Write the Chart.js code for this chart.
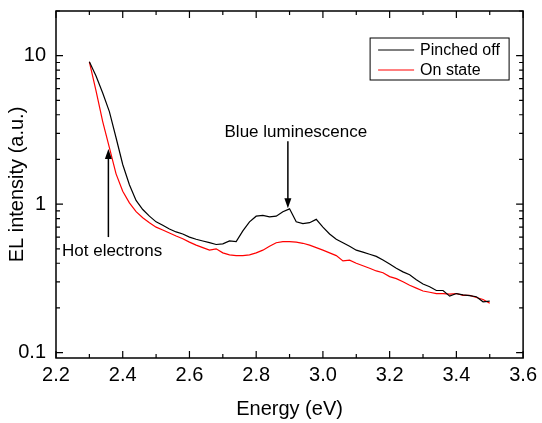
<!DOCTYPE html>
<html>
<head>
<meta charset="utf-8">
<script src="https://cdn.jsdelivr.net/npm/chart.js@4.4.1/dist/chart.umd.min.js"></script>
<style>
  html, body { margin: 0; padding: 0; background: #fff; }
  #wrap { width: 542px; height: 423px; }
</style>
</head>
<body>
<div id="wrap"><canvas id="elChart"></canvas></div>
<script>
// EL spectra
const energy = [
  2.30, 2.32, 2.34, 2.36, 2.38, 2.40, 2.42, 2.44, 2.46, 2.48,
  2.50, 2.52, 2.54, 2.56, 2.58, 2.60, 2.62, 2.64, 2.66, 2.68,
  2.70, 2.72, 2.74, 2.76, 2.78, 2.80, 2.82, 2.84, 2.86, 2.88,
  2.90, 2.92, 2.94, 2.96, 2.98, 3.00, 3.02, 3.04, 3.06, 3.08,
  3.10, 3.12, 3.14, 3.16, 3.18, 3.20, 3.22, 3.24, 3.26, 3.28,
  3.30, 3.32, 3.34, 3.36, 3.38, 3.40, 3.42, 3.44, 3.46, 3.48, 3.50
]
const pinchedOff = [
  9.1, 7.3, 5.6, 4.2, 2.8, 1.85, 1.35, 1.06, 0.92, 0.83,
  0.76, 0.72, 0.68, 0.65, 0.63, 0.60, 0.58, 0.565, 0.55, 0.535,
  0.54, 0.565, 0.56, 0.66, 0.76, 0.83, 0.84, 0.82, 0.83, 0.89,
  0.93, 0.76, 0.74, 0.75, 0.79, 0.70, 0.63, 0.58, 0.55, 0.52,
  0.49, 0.475, 0.46, 0.445, 0.42, 0.395, 0.37, 0.35, 0.335, 0.31,
  0.29, 0.278, 0.262, 0.262, 0.24, 0.25, 0.245, 0.242, 0.238, 0.22, 0.222
]
const onState = [
  9.1, 5.8, 3.6, 2.4, 1.6, 1.22, 1.02, 0.89, 0.81, 0.75,
  0.70, 0.67, 0.64, 0.61, 0.585, 0.555, 0.53, 0.51, 0.49, 0.50,
  0.47, 0.455, 0.45, 0.45, 0.455, 0.47, 0.49, 0.52, 0.55, 0.56,
  0.56, 0.555, 0.545, 0.53, 0.51, 0.49, 0.47, 0.45, 0.415, 0.42,
  0.40, 0.385, 0.37, 0.355, 0.345, 0.325, 0.315, 0.30, 0.284, 0.272,
  0.26, 0.255, 0.25, 0.25, 0.248, 0.25, 0.243, 0.243, 0.235, 0.228, 0.215
]
const seriesNames = ['Pinched off', 'On state']
const seriesColors = ['#000000', '#ff0000']

const xTickValues = [2.2, 2.3, 2.4, 2.5, 2.6, 2.7, 2.8, 2.9, 3.0, 3.1, 3.2, 3.3, 3.4, 3.5, 3.6]
const xTickLabels = ['2.2', '2.4', '2.6', '2.8', '3.0', '3.2', '3.4', '3.6']
const yTickValues = [0.1, 0.2, 0.3, 0.4, 0.5, 0.6, 0.7, 0.8, 0.9, 1, 2, 3, 4, 5, 6, 7, 8, 9, 10, 20]
const yTickLabels = ['0.1', '1', '10']

const FONT = "'Liberation Sans', Arial, sans-serif"

// arrows: tip given in data units, tail and text as pixel offsets
const notes = [
  { text: 'Blue luminescence', x: 2.895, y: 0.94, tail: -67, textDx: 8, textDy: -76 },
  { text: 'Hot electrons', x: 2.357, y: 2.35, tail: 88, textDx: 6, textDy: 102 }
]

const toPoints = (xs, ys) => xs.map((x, i) => ({ x: x, y: ys[i] }))

// frame, inward ticks, legend box and arrows
const decorations = {
  id: 'decorations',
  afterDraw(chart) {
    const { ctx, chartArea: a, scales: { x, y } } = chart
    ctx.save()
    ctx.strokeStyle = '#000'
    ctx.lineWidth = 1.5
    ctx.strokeRect(a.left, a.top, a.right - a.left, a.bottom - a.top)

    ctx.lineWidth = 1.2
    ctx.beginPath()
    x.ticks.forEach(t => {
      const px = x.getPixelForValue(t.value)
      const len = t.label ? 7 : 4
      ctx.moveTo(px, a.bottom); ctx.lineTo(px, a.bottom - len)
      ctx.moveTo(px, a.top); ctx.lineTo(px, a.top + len)
    })
    y.ticks.forEach(t => {
      const py = y.getPixelForValue(t.value)
      if (py < a.top - 0.5 || py > a.bottom + 0.5) return
      const len = t.label ? 7 : 4
      ctx.moveTo(a.left, py); ctx.lineTo(a.left + len, py)
      ctx.moveTo(a.right, py); ctx.lineTo(a.right - len, py)
    })
    ctx.stroke()

    // legend
    const bx = a.right - 153, by = a.top + 27, bw = 139, bh = 42
    ctx.lineWidth = 1
    ctx.strokeRect(bx, by, bw, bh)
    ctx.font = '16px ' + FONT
    ctx.textBaseline = 'middle'
    ctx.textAlign = 'left'
    chart.data.datasets.forEach((ds, i) => {
      const ly = by + 12 + i * 20
      ctx.strokeStyle = ds.borderColor
      ctx.beginPath()
      ctx.moveTo(bx + 8, ly); ctx.lineTo(bx + 44, ly)
      ctx.stroke()
      ctx.fillStyle = '#000'
      ctx.fillText(ds.label, bx + 50, ly + 1)
    })

    // annotations
    ctx.font = '17px ' + FONT
    ctx.fillStyle = '#000'
    ctx.strokeStyle = '#000'
    notes.forEach(n => {
      const px = x.getPixelForValue(n.x)
      const py = y.getPixelForValue(n.y)
      const dir = n.tail < 0 ? 1 : -1
      ctx.lineWidth = 1.5
      ctx.beginPath()
      ctx.moveTo(px, py + n.tail)
      ctx.lineTo(px, py - dir * 8)
      ctx.stroke()
      ctx.beginPath()
      ctx.moveTo(px, py)
      ctx.lineTo(px - 3.5, py - dir * 10)
      ctx.lineTo(px + 3.5, py - dir * 10)
      ctx.closePath()
      ctx.fill()
      ctx.textAlign = n.tail < 0 ? 'center' : 'left'
      ctx.textBaseline = 'middle'
      const tx = n.tail < 0 ? px + n.textDx : a.left + n.textDx
      ctx.fillText(n.text, tx, py + n.textDy)
    })
    ctx.restore()
  }
}

new Chart(document.getElementById('elChart'), {
  type: 'scatter',
  data: {
    datasets: [
      {
        label: seriesNames[0],
        data: toPoints(energy, pinchedOff),
        borderColor: seriesColors[0],
        showLine: true,
        borderWidth: 1.2,
        pointRadius: 0,
        tension: 0
      },
      {
        label: seriesNames[1],
        data: toPoints(energy, onState),
        borderColor: seriesColors[1],
        showLine: true,
        borderWidth: 1.2,
        pointRadius: 0,
        tension: 0
      }
    ]
  },
  options: {
    responsive: true,
    maintainAspectRatio: false,
    animation: false,
    layout: { padding: { top: 11, right: 17, left: 0, bottom: 0 } },
    plugins: {
      legend: { display: false },
      tooltip: { enabled: false }
    },
    scales: {
      x: {
        type: 'linear',
        min: 2.2,
        max: 3.6,
        afterBuildTicks: scale => { scale.ticks = xTickValues.map(v => ({ value: v })) },
        afterFit: scale => { scale.height = 65 },
        grid: { display: false, drawTicks: false },
        border: { display: false },
        ticks: {
          autoSkip: false,
          maxRotation: 0,
          padding: 5,
          color: '#000',
          font: { family: FONT, size: 20 },
          callback: value => {
            const s = value.toFixed(1)
            return xTickLabels.includes(s) ? s : ''
          }
        },
        title: {
          display: true,
          text: 'Energy (eV)',
          color: '#000',
          font: { family: FONT, size: 20 },
          padding: { top: 0, bottom: 2 }
        }
      },
      y: {
        type: 'logarithmic',
        min: 0.092,
        max: 20,
        afterBuildTicks: scale => { scale.ticks = yTickValues.map(v => ({ value: v })) },
        afterFit: scale => {
          scale.width = 56
          scale.paddingTop = 0
          scale.paddingBottom = 0
        },
        grid: { display: false, drawTicks: false },
        border: { display: false },
        ticks: {
          autoSkip: false,
          padding: 10,
          color: '#000',
          font: { family: FONT, size: 20 },
          callback: value => {
            const s = String(value)
            return yTickLabels.includes(s) ? s : ''
          }
        },
        title: {
          display: true,
          text: 'EL intensity (a.u.)',
          color: '#000',
          font: { family: FONT, size: 20 },
          padding: { top: 5, bottom: 0 }
        }
      }
    }
  },
  plugins: [decorations]
})
</script>
</body>
</html>
